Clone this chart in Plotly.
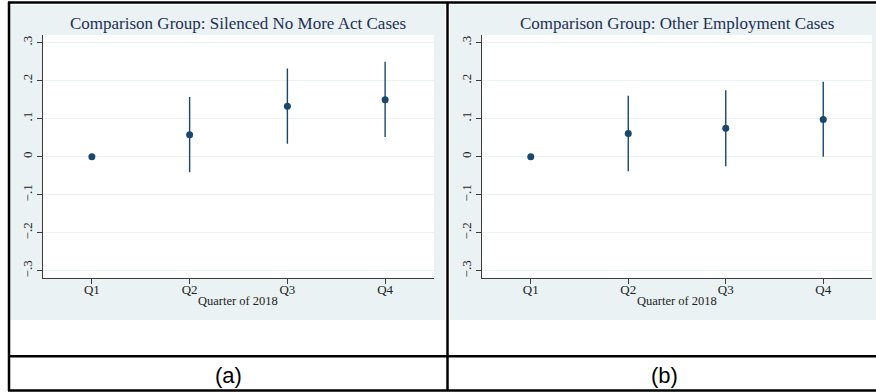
import plotly.graph_objects as go

# Event-study style estimates by quarter of 2018, with 95% CIs
quarters = ["Q1", "Q2", "Q3", "Q4"]
quarter_pos = [1, 2, 3, 4]

snm_coef = [0.0, 0.058, 0.133, 0.150]
snm_upper = [0.0, 0.157, 0.232, 0.250]
snm_lower = [0.0, -0.041, 0.034, 0.052]

emp_coef = [0.0, 0.061, 0.075, 0.098]
emp_upper = [0.0, 0.160, 0.175, 0.197]
emp_lower = [0.0, -0.038, -0.025, 0.000]

panel_titles = ["Comparison Group: Silenced No More Act Cases",
                "Comparison Group: Other Employment Cases"]
panel_tags = ["(a)", "(b)"]
y_ticks = [-0.3, -0.2, -0.1, 0.0, 0.1, 0.2, 0.3]
y_ticktext = ["\u2212.3", "\u2212.2", "\u2212.1", "0", ".1", ".2", ".3"]

W, H = 876, 392
NAVY = "#1a476f"
BG = "#eaf2f3"
AXIS = "#3c3c3c"
SERIF = "Liberation Serif"


def px(x):
    return x / W


def py(y):
    return 1 - y / H


fig = go.Figure()

series = [(snm_coef, snm_upper, snm_lower), (emp_coef, emp_upper, emp_lower)]
for i, (coef, up, lo) in enumerate(series):
    xa = "x" if i == 0 else "x2"
    ya = "y" if i == 0 else "y2"
    fig.add_trace(go.Scatter(
        x=quarter_pos, y=coef, mode="markers",
        marker=dict(color=NAVY, size=7),
        error_y=dict(type="data", symmetric=False,
                     array=[u - c for u, c in zip(up, coef)],
                     arrayminus=[c - l for c, l in zip(coef, lo)],
                     color=NAVY, thickness=1.4, width=0),
        xaxis=xa, yaxis=ya, showlegend=False, hoverinfo="skip",
    ))

plot_boxes = [(43, 434), (482, 872)]
top, bottom = 35, 277.7

axis_common = dict(
    showline=True, linecolor=AXIS, linewidth=1.3, mirror=False,
    ticks="outside", ticklen=5, tickcolor=AXIS, tickwidth=1.2,
    tickfont=dict(family=SERIF, size=13, color="#222222"),
    zeroline=False,
)

layout = dict(
    width=W, height=H, margin=dict(l=0, r=0, t=0, b=0),
    paper_bgcolor="white", plot_bgcolor="white",
    shapes=[], annotations=[],
)

# graph-region backgrounds
for bx0, bx1 in [(10, 445), (450, 876)]:
    layout["shapes"].append(dict(
        type="rect", xref="paper", yref="paper", layer="below",
        x0=px(bx0), x1=px(bx1), y0=py(320), y1=py(5),
        fillcolor=BG, line=dict(width=0),
    ))

for i, (x0, x1) in enumerate(plot_boxes):
    sfx = "" if i == 0 else "2"
    layout["xaxis" + sfx] = dict(
        axis_common, domain=[px(x0), px(x1)], anchor="y" + sfx,
        range=[0.5, 4.5], tickvals=quarter_pos, ticktext=quarters,
        showgrid=False, ticklabelstandoff=-5,
    )
    layout["yaxis" + sfx] = dict(
        axis_common, domain=[py(bottom), py(top)], anchor="x" + sfx,
        range=[-0.318, 0.32], tickvals=y_ticks, ticktext=y_ticktext,
        tickangle=-90, showgrid=True, gridcolor=BG, gridwidth=1,
    )
    # white plot region over the grey-blue graph region
    layout["shapes"].append(dict(
        type="rect", xref="paper", yref="paper", layer="below",
        x0=px(x0), x1=px(x1), y0=py(bottom), y1=py(top),
        fillcolor="white", line=dict(width=0),
    ))
    # x-axis title
    layout["annotations"].append(dict(
        text="Quarter of 2018", xref="paper", yref="paper",
        x=px((x0 + x1) / 2), y=py(300.5), xanchor="center", yanchor="middle",
        showarrow=False, font=dict(family=SERIF, size=12.5, color="#222222"),
    ))
    # panel title
    layout["annotations"].append(dict(
        text=panel_titles[i], xref="paper", yref="paper",
        x=px((x0 + x1) / 2), y=py(24), xanchor="center", yanchor="middle",
        showarrow=False, font=dict(family=SERIF, size=17, color="#1e2f55"),
    ))

# table borders
border = dict(color="black", width=2.5)
for (x0, y0, x1, y1) in [
    (8, 2.5, 876, 2.5),
    (8, 356.3, 876, 356.3),
    (8, 390.5, 876, 390.5),
    (9, 2, 9, 391),
    (447.5, 2, 447.5, 391),
]:
    layout["shapes"].append(dict(
        type="line", xref="paper", yref="paper",
        x0=px(x0), y0=py(y0), x1=px(x1), y1=py(y1), line=border, layer="above",
    ))

# sub-figure tags
for tag, cx in zip(panel_tags, [228, 664]):
    layout["annotations"].append(dict(
        text=tag, xref="paper", yref="paper", x=px(cx), y=py(375),
        xanchor="center", yanchor="middle", showarrow=False,
        font=dict(family="Liberation Sans", size=22, color="black"),
    ))

fig.update_layout(**layout)
fig.write_html("out.html")
